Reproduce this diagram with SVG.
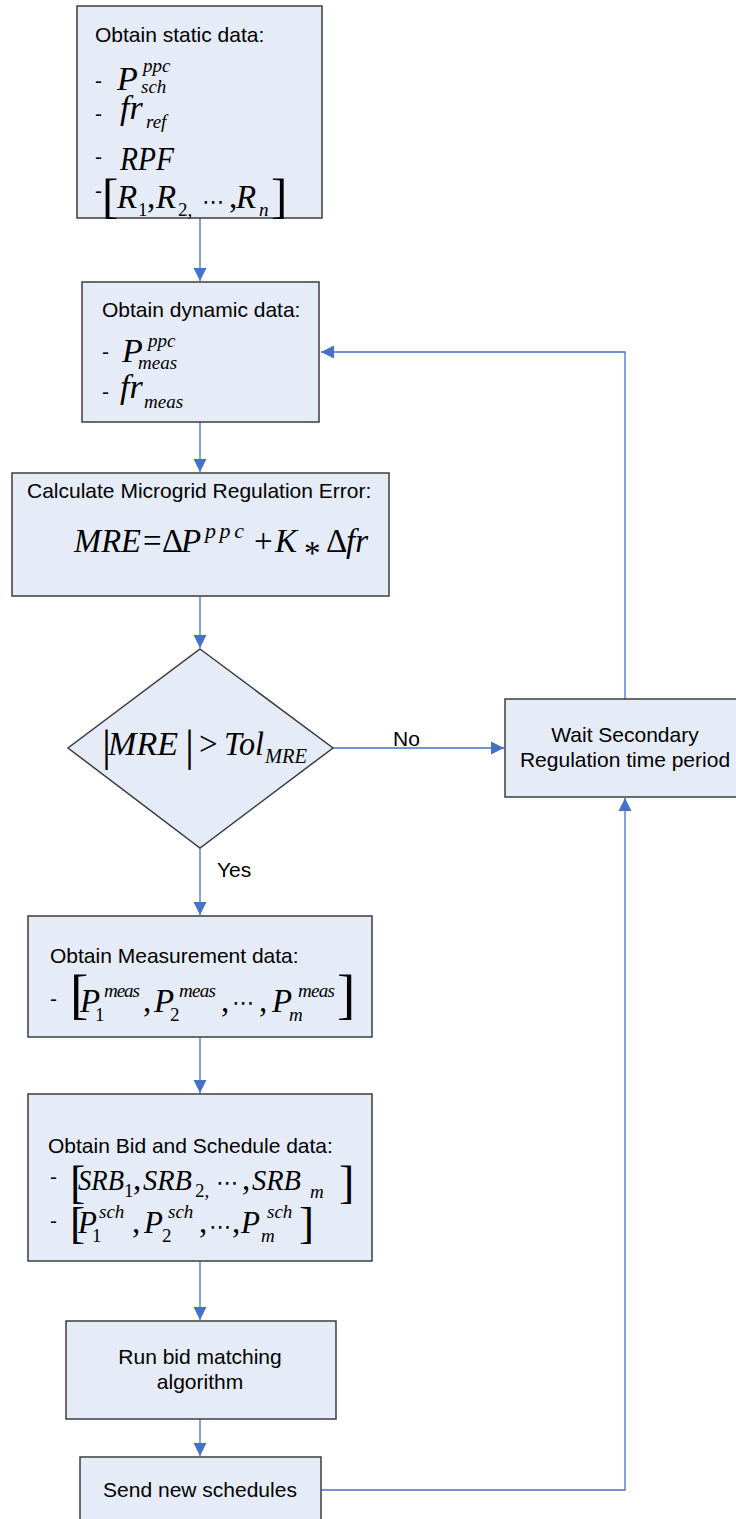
<svg xmlns="http://www.w3.org/2000/svg" width="736" height="1519" viewBox="0 0 736 1519">
  <style>
    .box { fill: #E6ECF7; stroke: #3C3C3C; stroke-width: 1.5; }
    .tx { font-family: "Liberation Sans", Arial, sans-serif; font-size: 21px; fill: #000; }
    .mc { text-anchor: middle; }
    .mi { font-family: "Liberation Serif", "Times New Roman", serif; font-style: italic; font-size: 33px; fill: #000; }
    .mn { font-family: "Liberation Serif", "Times New Roman", serif; font-size: 33px; fill: #000; }
    .sub { font-size: 19px; }
    .dots { font-family: "DejaVu Sans", sans-serif; font-size: 22px; fill: #000; }
    .conn { fill: none; stroke: #4472C4; stroke-width: 1.3; }
  </style>
  <defs>
    <marker id="arrow" markerUnits="userSpaceOnUse" markerWidth="14" markerHeight="14" viewBox="0 0 14 14" refX="13" refY="7" orient="auto">
      <path d="M0,0.5 L13,7 L0,13.5 Z" fill="#4472C4"/>
    </marker>
  </defs>

  <rect width="736" height="1519" fill="#FFFFFF"/>

  <!-- connectors -->
  <g id="connectors">
    <path class="conn" d="M200,218 V281" marker-end="url(#arrow)"/>
    <path class="conn" d="M200,422 V472" marker-end="url(#arrow)"/>
    <path class="conn" d="M200,596 V648" marker-end="url(#arrow)"/>
    <path class="conn" d="M200,848 V915" marker-end="url(#arrow)"/>
    <path class="conn" d="M200,1037 V1093" marker-end="url(#arrow)"/>
    <path class="conn" d="M200,1261 V1320" marker-end="url(#arrow)"/>
    <path class="conn" d="M200,1419 V1456" marker-end="url(#arrow)"/>
    <path class="conn" d="M333,748 H504" marker-end="url(#arrow)"/>
    <path class="conn" d="M625,699 V352 H321" marker-end="url(#arrow)"/>
    <path class="conn" d="M321,1490 H625 V798" marker-end="url(#arrow)"/>
    <text class="tx" x="393" y="746">No</text>
    <text class="tx" x="217" y="877">Yes</text>
  </g>

  <!-- static data -->
  <g id="static-data">
    <rect class="box" x="77" y="6" width="245" height="212"/>
    <text class="tx" x="95" y="42">Obtain static data:</text>
    <text class="tx" x="95" y="88">-</text>
    <text class="mi" x="117" y="90" style="font-size:34px">P</text>
    <text class="mi sub" x="143" y="72">ppc</text>
    <text class="mi sub" x="141" y="93">sch</text>
    <text class="tx" x="95" y="121">-</text>
    <text class="mi" x="120" y="119" style="font-size:34px">fr</text>
    <text class="mi sub" x="146" y="128">ref</text>
    <text class="tx" x="95" y="164">-</text>
    <text class="mi" x="120" y="170" textLength="54" lengthAdjust="spacingAndGlyphs">RPF</text>
    <text class="tx" x="95" y="198">-</text>
    <text class="mn" x="102" y="212" style="font-size:49px">[</text>
    <text class="mi" x="117" y="208">R</text>
    <text class="mn sub" x="138" y="216">1</text>
    <text class="mn" x="147" y="208">,</text>
    <text class="mi" x="156" y="208">R</text>
    <text class="mn sub" x="178" y="216">2,</text>
    <text class="dots" x="202" y="209">⋯</text>
    <text class="mn" x="229" y="208">,</text>
    <text class="mi" x="236" y="208">R</text>
    <text class="mi sub" x="259" y="216">n</text>
    <text class="mn" x="271" y="212" style="font-size:49px">]</text>
  </g>

  <!-- dynamic data -->
  <g id="dynamic-data">
    <rect class="box" x="82" y="282" width="237" height="140"/>
    <text class="tx" x="102" y="317">Obtain dynamic data:</text>
    <text class="tx" x="102" y="359">-</text>
    <text class="mi" x="122" y="362" style="font-size:34px">P</text>
    <text class="mi sub" x="148" y="347">ppc</text>
    <text class="mi sub" x="138" y="369">meas</text>
    <text class="tx" x="102" y="399">-</text>
    <text class="mi" x="120" y="398" style="font-size:34px">fr</text>
    <text class="mi sub" x="144" y="408">meas</text>
  </g>

  <!-- regulation error -->
  <g id="regulation-error">
    <rect class="box" x="12" y="473" width="377" height="123"/>
    <text class="tx" x="27" y="498">Calculate Microgrid Regulation Error:</text>
    <text class="mi" x="74" y="552" textLength="67" lengthAdjust="spacingAndGlyphs">MRE</text>
    <text class="mn" x="143" y="552">=</text>
    <text class="mn" x="162" y="552">Δ</text>
    <text class="mi" x="181" y="552">P</text>
    <text class="mi" x="205" y="538" style="font-size:22px" textLength="39" lengthAdjust="spacing">ppc</text>
    <text class="mn" x="254" y="552">+</text>
    <text class="mi" x="275" y="552">K</text>
    <text class="mn" x="304" y="564">*</text>
    <text class="mn" x="326" y="552">Δ</text>
    <text class="mi" x="346" y="552">fr</text>
  </g>

  <!-- tolerance check -->
  <g id="tolerance-check">
    <polygon class="box" points="200,649 333,748 200,848 68,748"/>
    <text class="mn" x="102" y="761" style="font-size:45px">|</text>
    <text class="mi" x="108" y="755" textLength="70" lengthAdjust="spacingAndGlyphs">MRE</text>
    <text class="mn" x="185" y="761" style="font-size:45px">|</text>
    <text class="mn" x="199" y="755">&gt;</text>
    <text class="mi" x="224" y="755" textLength="40" lengthAdjust="spacingAndGlyphs">Tol</text>
    <text class="mi" x="265" y="763" style="font-size:20px" textLength="42" lengthAdjust="spacingAndGlyphs">MRE</text>
  </g>

  <!-- wait period -->
  <g id="wait-period">
    <rect class="box" x="505" y="699" width="240" height="98"/>
    <text class="tx mc" x="625" y="742">Wait Secondary</text>
    <text class="tx mc" x="625" y="767">Regulation time period</text>
  </g>

  <!-- measurement data -->
  <g id="measurement-data">
    <rect class="box" x="28" y="916" width="344" height="121"/>
    <text class="tx" x="50" y="963">Obtain Measurement data:</text>
    <text class="tx" x="50" y="1006">-</text>
    <text class="mn" x="70" y="1013" style="font-size:55px">[</text>
    <text class="mi" x="80" y="1012">P</text>
    <text class="mi sub" x="104" y="997" textLength="36" lengthAdjust="spacing">meas</text>
    <text class="mn sub" x="95" y="1021">1</text>
    <text class="mn" x="143" y="1012">,</text>
    <text class="mi" x="154" y="1012">P</text>
    <text class="mi sub" x="179" y="997" textLength="37" lengthAdjust="spacing">meas</text>
    <text class="mn sub" x="170" y="1021">2</text>
    <text class="mn" x="221" y="1012">,</text>
    <text class="dots" x="232" y="1010">⋯</text>
    <text class="mn" x="259" y="1012">,</text>
    <text class="mi" x="272" y="1012">P</text>
    <text class="mi sub" x="298" y="997" textLength="37" lengthAdjust="spacing">meas</text>
    <text class="mi sub" x="289" y="1021">m</text>
    <text class="mn" x="337" y="1013" style="font-size:55px">]</text>
  </g>

  <!-- bid and schedule data -->
  <g id="bid-schedule-data">
    <rect class="box" x="28" y="1094" width="344" height="167"/>
    <text class="tx" x="48" y="1153">Obtain Bid and Schedule data:</text>
    <text class="tx" x="50" y="1184">-</text>
    <text class="mn" x="70" y="1198" style="font-size:46px">[</text>
    <text class="mi" x="78" y="1190" style="font-size:30px" textLength="46" lengthAdjust="spacingAndGlyphs">SRB</text>
    <text class="mn sub" x="124" y="1197">1</text>
    <text class="mn" x="133" y="1190">,</text>
    <text class="mi" x="143" y="1190" style="font-size:30px" textLength="49" lengthAdjust="spacingAndGlyphs">SRB</text>
    <text class="mn sub" x="195" y="1197">2,</text>
    <text class="dots" x="216" y="1190">⋯</text>
    <text class="mn" x="242" y="1190">,</text>
    <text class="mi" x="252" y="1190" style="font-size:30px" textLength="49" lengthAdjust="spacingAndGlyphs">SRB</text>
    <text class="mi sub" x="310" y="1198">m</text>
    <text class="mn" x="339" y="1198" style="font-size:46px">]</text>
    <text class="tx" x="50" y="1228">-</text>
    <text class="mn" x="70" y="1238" style="font-size:45px">[</text>
    <text class="mi" x="78" y="1233" style="font-size:31px">P</text>
    <text class="mi sub" x="99" y="1218">sch</text>
    <text class="mn sub" x="92" y="1242">1</text>
    <text class="mn" x="132" y="1233">,</text>
    <text class="mi" x="144" y="1233" style="font-size:31px">P</text>
    <text class="mi sub" x="168" y="1218">sch</text>
    <text class="mn sub" x="162" y="1242">2</text>
    <text class="mn" x="199" y="1233">,</text>
    <text class="dots" x="209" y="1234">⋯</text>
    <text class="mn" x="232" y="1233">,</text>
    <text class="mi" x="241" y="1233" style="font-size:31px">P</text>
    <text class="mi sub" x="267" y="1218">sch</text>
    <text class="mi sub" x="261" y="1242">m</text>
    <text class="mn" x="299" y="1238" style="font-size:45px">]</text>
  </g>

  <!-- bid matching -->
  <g id="bid-matching">
    <rect class="box" x="66" y="1321" width="270" height="98"/>
    <text class="tx mc" x="200" y="1364">Run bid matching</text>
    <text class="tx mc" x="200" y="1389">algorithm</text>
  </g>

  <!-- send schedules -->
  <g id="send-schedules">
    <rect class="box" x="80" y="1457" width="241" height="70"/>
    <text class="tx mc" x="200" y="1497">Send new schedules</text>
  </g>
</svg>
